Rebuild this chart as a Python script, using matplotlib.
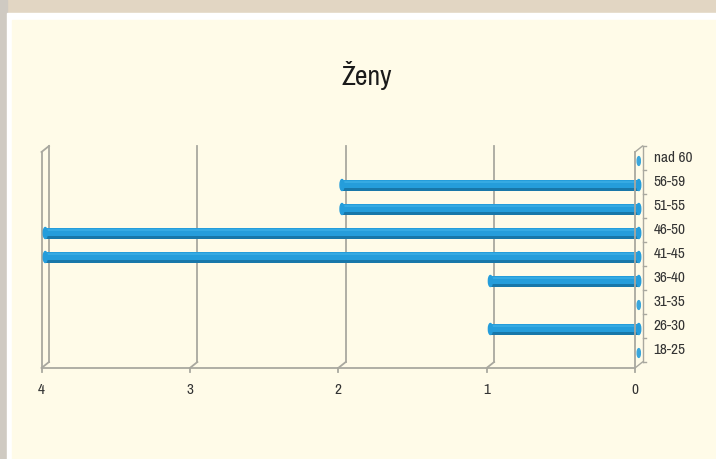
import matplotlib
matplotlib.use("Agg")
import matplotlib.pyplot as plt
from matplotlib import font_manager
from matplotlib.patches import Rectangle, Ellipse

# data
categories = ["18-25", "26-30", "31-35", "36-40", "41-45", "46-50", "51-55", "56-59", "nad 60"]
values = [0, 1, 0, 1, 4, 4, 2, 2, 0]
xticks = [4, 3, 2, 1, 0]
title = "Ženy"

# pick a narrow font if there is one
names = sorted(set(f.name for f in font_manager.fontManager.ttflist))
narrow = [n for n in names if 'Narrow' in n or 'Condensed' in n]
fam = narrow[:1] + ['DejaVu Sans']
plt.rcParams['font.family'] = fam
stretch = 'normal' if narrow else 'condensed'

W, H = 716, 459
fig = plt.figure(figsize=(W / 100, H / 100), dpi=100)
fig.patch.set_facecolor('#e2d6c3')

# page frame: shadow, white border, cream panel
fig.patches.append(Rectangle((0, 0), 7 / W, 1, transform=fig.transFigure,
                             color='#cfcac2', zorder=-10))
fig.patches.append(Rectangle((7 / W, 0), 1, 1 - 13 / H, transform=fig.transFigure,
                             color='white', zorder=-10))
fig.patches.append(Rectangle((12 / W, 0), 1, 1 - 20 / H, transform=fig.transFigure,
                             color='#fffbe8', zorder=-10))

# plot area = back wall of the pseudo-3D box
x_left, x_right = 49, 642.5
y_top, y_bot = 146, 362
ax = fig.add_axes([x_left / W, 1 - y_bot / H, (x_right - x_left) / W, (y_bot - y_top) / H])
ax.set_xlim(4, 0)
ax.set_ylim(-0.5, 8.5)
ax.axis('off')

ux = 4 / (x_right - x_left)       # data units per pixel in x
uy = 9 / (y_bot - y_top)          # data units per pixel in y
fx, fy = 7.5 * ux, -6 * uy        # offset back -> front
mx, my = fx / 2, fy / 2           # offset back -> middle

gc = '#a9a89f'
lw = 1.3

# back gridlines with slant to the front floor
for t in [1, 2, 3]:
    ax.plot([t, t], [-0.5, 8.5], color=gc, lw=lw, zorder=1, clip_on=False)
    ax.plot([t, t + fx], [-0.5, -0.5 + fy], color=gc, lw=lw, zorder=1, clip_on=False)

# left wall
ax.plot([4, 4], [-0.5, 8.5], color=gc, lw=lw, zorder=1, clip_on=False)
ax.plot([4 + fx, 4 + fx], [-0.5 + fy, 8.5 + fy], color=gc, lw=lw, zorder=1, clip_on=False)
ax.plot([4, 4 + fx], [8.5, 8.5 + fy], color=gc, lw=lw, zorder=1, clip_on=False)
ax.plot([4, 4 + fx], [-0.5, -0.5 + fy], color=gc, lw=lw, zorder=1, clip_on=False)

# right wall back line and ticks
ax.plot([0, 0], [-0.5, 8.5], color=gc, lw=1.0, zorder=1, clip_on=False)
for k in range(len(categories) + 1):
    ax.plot([0, -3 * ux], [k - 0.5, k - 0.5], color=gc, lw=1.0, zorder=1, clip_on=False)

# floor
ax.plot([4 + fx, fx], [-0.5 + fy, -0.5 + fy], color=gc, lw=lw, zorder=3, clip_on=False)
for t in xticks:
    ax.plot([t + fx, t + fx], [-0.5 + fy, -0.5 + fy - 4 * uy], color=gc, lw=lw,
            zorder=3, clip_on=False)
    ax.text(t + fx, -0.5 + fy - 22 * uy, str(t), ha='center', va='center',
            fontsize=11, color='#333333', fontstretch=stretch)

# bars (cylinders)
bh = 11 * uy
cap_w = 4 * ux
blue = '#259ddb'
for i, v in enumerate(values):
    yc = i + my
    if v > 0:
        ax.barh(yc, v, left=mx, height=bh, color=blue, zorder=2, clip_on=False)
        ax.barh(yc - bh * 0.4, v, left=mx, height=bh * 0.2, color='#1877a9',
                zorder=2, clip_on=False)
        ax.barh(yc + bh * 0.25, v, left=mx, height=bh * 0.15, color='#36aae3',
                zorder=2, clip_on=False)
        ax.add_patch(Ellipse((v + mx, yc), cap_w, bh, color=blue, zorder=2,
                             clip_on=False))
        ax.add_patch(Ellipse((mx, yc), cap_w, bh, color=blue, zorder=2,
                             clip_on=False))
    else:
        ax.add_patch(Ellipse((mx, yc), cap_w * 0.8, bh * 0.8,
                             color='#3aa6dc', zorder=2, clip_on=False))

# right wall front line (over bars)
ax.plot([fx, fx], [-0.5 + fy, 8.5 + fy], color=gc, lw=lw, zorder=3, clip_on=False)
ax.plot([fx, 0], [8.5 + fy, 8.5], color=gc, lw=1.0, zorder=3, clip_on=False)
ax.plot([fx, 0], [-0.5 + fy, -0.5], color=gc, lw=1.0, zorder=3, clip_on=False)

# category labels
for i, c in enumerate(categories):
    ax.text(-11 * ux, i, c, ha='left', va='center', fontsize=11, color='#333333',
            fontstretch=stretch)

fig.text(367 / W, 1 - 76 / H, title, ha='center', va='center', fontsize=20,
         color='#1a1a1a', fontweight='medium', fontstretch=stretch)

fig.savefig('out.png', dpi=100, facecolor=fig.get_facecolor())
